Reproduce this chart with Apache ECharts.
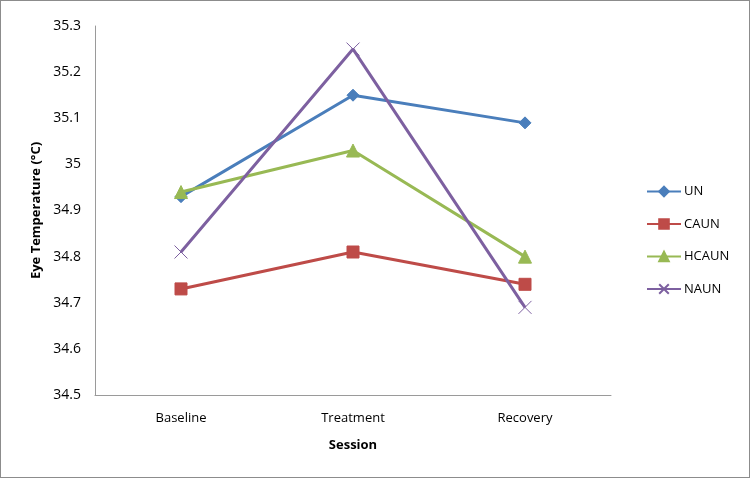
<!DOCTYPE html>
<html><head><meta charset="utf-8">
<script src="https://cdn.jsdelivr.net/npm/echarts@6/dist/echarts.min.js"></script>
<style>html,body{margin:0;padding:0;background:#fff}#c{width:750px;height:478px;box-sizing:border-box;border:1px solid #8c8c8c}</style>
</head><body><div id="c"></div>
<script>
var categories = ['Baseline', 'Treatment', 'Recovery'];
var UN = [34.93, 35.15, 35.09];
var CAUN = [34.73, 34.81, 34.74];
var HCAUN = [34.94, 35.03, 34.80];
var NAUN = [34.81, 35.25, 34.69];
var yTicks = [34.5, 34.6, 34.7, 34.8, 34.9, 35, 35.1, 35.2, 35.3];

var font = '"Open Sans", "Noto Sans", sans-serif';
var chart = echarts.init(document.getElementById('c'));
function s(name, data, color, symbol, size) {
  return {name: name, type: 'line', data: data, symbol: symbol, symbolSize: size,
    lineStyle: {color: color, width: 3}, itemStyle: {color: color, borderColor: color, borderWidth: 1},
    animation: false};
}
chart.setOption({
  animation: false,
  grid: {left: 94, right: 138, top: 25, bottom: 82, containLabel: false},
  legend: {
    orient: 'vertical', left: 640, top: 179, itemGap: 19.5, itemWidth: 34, itemHeight: 12,
    textStyle: {fontFamily: font, fontSize: 13, color: '#000', padding: [0, 0, 0, -2]},
    data: ['UN', 'CAUN', 'HCAUN', 'NAUN']
  },
  xAxis: {
    type: 'category', data: categories, boundaryGap: true,
    name: 'Session', nameLocation: 'middle', nameGap: 44,
    nameTextStyle: {fontFamily: font, fontSize: 13, fontWeight: 'bold', color: '#000'},
    axisLine: {lineStyle: {color: '#9a9a9a', width: 1}},
    axisTick: {show: false},
    axisLabel: {fontFamily: font, fontSize: 13, color: '#000', margin: 17}
  },
  yAxis: {
    type: 'value', min: 34.5, max: 35.3, interval: 0.1,
    name: 'Eye Temperature (°C)', nameLocation: 'middle', nameGap: 50,
    nameTextStyle: {fontFamily: font, fontSize: 13, fontWeight: 'bold', color: '#000'},
    axisLine: {show: true, lineStyle: {color: '#9a9a9a', width: 1}},
    axisTick: {show: false},
    splitLine: {show: false},
    axisLabel: {fontFamily: font, fontSize: 14, color: '#000', margin: 14,
      formatter: function (v) { var t = yTicks.find(function (x) { return Math.abs(x - v) < 1e-6; }); return t === undefined ? '' : String(t); }}
  },
  series: [
    s('UN', UN, '#4a7ebb', 'diamond', 12),
    s('CAUN', CAUN, '#be4b48', 'rect', 12),
    s('HCAUN', HCAUN, '#98b954', 'triangle', 13),
    s('NAUN', NAUN, '#7d60a0', 'path://M0,0 L10,10 M10,0 L0,10', 13)
  ]
});
</script></body></html>
